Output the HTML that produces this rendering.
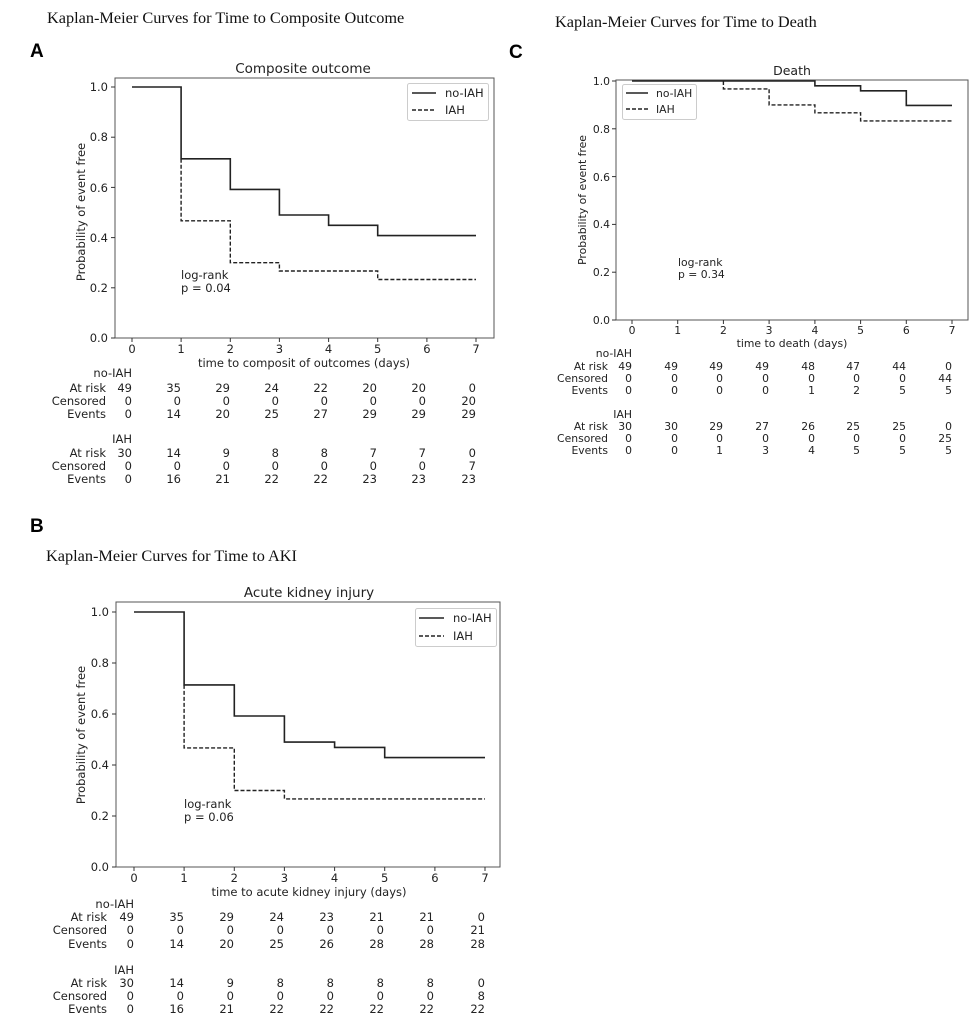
<!DOCTYPE html>
<html><head><meta charset="utf-8"><style>
body{margin:0;background:#fff}
svg{display:block}
.s{font-family:"Liberation Serif",serif;font-size:16.3px;fill:#111}
.L{font-family:"Liberation Sans",sans-serif;font-weight:bold;font-size:19px;fill:#000}
.d{font-family:"DejaVu Sans",sans-serif;fill:#222}
</style></head><body>
<svg width="977" height="1024" viewBox="0 0 977 1024" xmlns="http://www.w3.org/2000/svg">
<rect width="977" height="1024" fill="#fff"/>
<text class="s" x="47" y="23">Kaplan-Meier Curves for Time to Composite Outcome</text>
<text class="s" x="555" y="27">Kaplan-Meier Curves for Time to Death</text>
<text class="s" x="46" y="561">Kaplan-Meier Curves for Time to AKI</text>
<text class="L" x="30" y="57">A</text>
<text class="L" x="509" y="58">C</text>
<text class="L" x="30" y="532">B</text>

<!-- Panel A -->
<g class="d" font-size="11.5">
<text x="303" y="73" text-anchor="middle" font-size="13.5">Composite outcome</text>
<rect x="115" y="78" width="379" height="260" fill="none" stroke="#555" stroke-width="1"/>
<g stroke="#333"><line x1="111" y1="338" x2="115" y2="338"/><line x1="111" y1="287.8" x2="115" y2="287.8"/><line x1="111" y1="237.6" x2="115" y2="237.6"/><line x1="111" y1="187.4" x2="115" y2="187.4"/><line x1="111" y1="137.2" x2="115" y2="137.2"/><line x1="111" y1="87" x2="115" y2="87"/>
<line x1="132" y1="338" x2="132" y2="342"/><line x1="181.1" y1="338" x2="181.1" y2="342"/><line x1="230.3" y1="338" x2="230.3" y2="342"/><line x1="279.4" y1="338" x2="279.4" y2="342"/><line x1="328.6" y1="338" x2="328.6" y2="342"/><line x1="377.7" y1="338" x2="377.7" y2="342"/><line x1="426.9" y1="338" x2="426.9" y2="342"/><line x1="476" y1="338" x2="476" y2="342"/></g>
<g text-anchor="end"><text x="108" y="342">0.0</text><text x="108" y="292">0.2</text><text x="108" y="242">0.4</text><text x="108" y="192">0.6</text><text x="108" y="141">0.8</text><text x="108" y="91">1.0</text></g>
<g text-anchor="middle"><text x="132" y="353">0</text><text x="181.1" y="353">1</text><text x="230.3" y="353">2</text><text x="279.4" y="353">3</text><text x="328.6" y="353">4</text><text x="377.7" y="353">5</text><text x="426.9" y="353">6</text><text x="476" y="353">7</text></g>
<text x="304" y="367" text-anchor="middle">time to composit of outcomes (days)</text>
<text transform="translate(85,212) rotate(-90)" text-anchor="middle">Probability of event free</text>
<path d="M132,87 H181.1 V158.8 H230.3 V189.4 H279.4 V215 H328.6 V225.3 H377.7 V235.6 H476" fill="none" stroke="#222" stroke-width="1.6"/>
<path d="M181.1,158.8 V220.8 H230.3 V262.7 H279.4 V271 H377.7 V279.5 H476" fill="none" stroke="#222" stroke-width="1.4" stroke-dasharray="4,2"/>
<text x="181" y="279">log-rank</text><text x="181" y="292">p = 0.04</text>
<rect x="407.5" y="83.5" width="81" height="37" fill="#fff" stroke="#ccc" rx="2"/>
<line x1="412" y1="93" x2="436" y2="93" stroke="#222" stroke-width="1.6"/><text x="445" y="97">no-IAH</text>
<line x1="412" y1="110" x2="436" y2="110" stroke="#222" stroke-width="1.4" stroke-dasharray="4,2"/><text x="445" y="114">IAH</text>
<g text-anchor="end">
<text x="132" y="377">no-IAH</text>
<text x="106" y="392">At risk</text><text x="106" y="405">Censored</text><text x="106" y="418">Events</text>
<text x="132" y="443">IAH</text>
<text x="106" y="457">At risk</text><text x="106" y="470">Censored</text><text x="106" y="483">Events</text>
<text y="392"><tspan x="132">49</tspan><tspan x="181">35</tspan><tspan x="230">29</tspan><tspan x="279">24</tspan><tspan x="328">22</tspan><tspan x="377">20</tspan><tspan x="426">20</tspan><tspan x="476">0</tspan></text>
<text y="405"><tspan x="132">0</tspan><tspan x="181">0</tspan><tspan x="230">0</tspan><tspan x="279">0</tspan><tspan x="328">0</tspan><tspan x="377">0</tspan><tspan x="426">0</tspan><tspan x="476">20</tspan></text>
<text y="418"><tspan x="132">0</tspan><tspan x="181">14</tspan><tspan x="230">20</tspan><tspan x="279">25</tspan><tspan x="328">27</tspan><tspan x="377">29</tspan><tspan x="426">29</tspan><tspan x="476">29</tspan></text>
<text y="457"><tspan x="132">30</tspan><tspan x="181">14</tspan><tspan x="230">9</tspan><tspan x="279">8</tspan><tspan x="328">8</tspan><tspan x="377">7</tspan><tspan x="426">7</tspan><tspan x="476">0</tspan></text>
<text y="470"><tspan x="132">0</tspan><tspan x="181">0</tspan><tspan x="230">0</tspan><tspan x="279">0</tspan><tspan x="328">0</tspan><tspan x="377">0</tspan><tspan x="426">0</tspan><tspan x="476">7</tspan></text>
<text y="483"><tspan x="132">0</tspan><tspan x="181">16</tspan><tspan x="230">21</tspan><tspan x="279">22</tspan><tspan x="328">22</tspan><tspan x="377">23</tspan><tspan x="426">23</tspan><tspan x="476">23</tspan></text>
</g>
</g>

<!-- Panel B -->
<g class="d" font-size="11.5">
<text x="309" y="597" text-anchor="middle" font-size="13.5">Acute kidney injury</text>
<rect x="116" y="602" width="384" height="265" fill="none" stroke="#555" stroke-width="1"/>
<g stroke="#333"><line x1="112" y1="867" x2="116" y2="867"/><line x1="112" y1="816" x2="116" y2="816"/><line x1="112" y1="765" x2="116" y2="765"/><line x1="112" y1="714" x2="116" y2="714"/><line x1="112" y1="663" x2="116" y2="663"/><line x1="112" y1="612" x2="116" y2="612"/>
<line x1="134" y1="867" x2="134" y2="871"/><line x1="184.1" y1="867" x2="184.1" y2="871"/><line x1="234.3" y1="867" x2="234.3" y2="871"/><line x1="284.4" y1="867" x2="284.4" y2="871"/><line x1="334.6" y1="867" x2="334.6" y2="871"/><line x1="384.7" y1="867" x2="384.7" y2="871"/><line x1="434.9" y1="867" x2="434.9" y2="871"/><line x1="485" y1="867" x2="485" y2="871"/></g>
<g text-anchor="end"><text x="109" y="871">0.0</text><text x="109" y="820">0.2</text><text x="109" y="769">0.4</text><text x="109" y="718">0.6</text><text x="109" y="667">0.8</text><text x="109" y="616">1.0</text></g>
<g text-anchor="middle"><text x="134" y="882">0</text><text x="184.1" y="882">1</text><text x="234.3" y="882">2</text><text x="284.4" y="882">3</text><text x="334.6" y="882">4</text><text x="384.7" y="882">5</text><text x="434.9" y="882">6</text><text x="485" y="882">7</text></g>
<text x="309" y="896" text-anchor="middle">time to acute kidney injury (days)</text>
<text transform="translate(85,735) rotate(-90)" text-anchor="middle">Probability of event free</text>
<path d="M134,612 H184.1 V684.9 H234.3 V716 H284.4 V742.1 H334.6 V747.4 H384.7 V757.6 H485" fill="none" stroke="#222" stroke-width="1.6"/>
<path d="M184.1,684.9 V747.9 H234.3 V790.5 H284.4 V798.9 H485" fill="none" stroke="#222" stroke-width="1.4" stroke-dasharray="4,2"/>
<text x="184" y="808">log-rank</text><text x="184" y="821">p = 0.06</text>
<rect x="415.5" y="608.5" width="81" height="38" fill="#fff" stroke="#ccc" rx="2"/>
<line x1="419" y1="618" x2="444" y2="618" stroke="#222" stroke-width="1.6"/><text x="453" y="622">no-IAH</text>
<line x1="419" y1="636" x2="444" y2="636" stroke="#222" stroke-width="1.4" stroke-dasharray="4,2"/><text x="453" y="640">IAH</text>
<g text-anchor="end">
<text x="134" y="908">no-IAH</text>
<text x="107" y="921">At risk</text><text x="107" y="934">Censored</text><text x="107" y="948">Events</text>
<text x="134" y="974">IAH</text>
<text x="107" y="987">At risk</text><text x="107" y="1000">Censored</text><text x="107" y="1013">Events</text>
<text y="921"><tspan x="134">49</tspan><tspan x="184">35</tspan><tspan x="234">29</tspan><tspan x="284">24</tspan><tspan x="334">23</tspan><tspan x="384">21</tspan><tspan x="434">21</tspan><tspan x="485">0</tspan></text>
<text y="934"><tspan x="134">0</tspan><tspan x="184">0</tspan><tspan x="234">0</tspan><tspan x="284">0</tspan><tspan x="334">0</tspan><tspan x="384">0</tspan><tspan x="434">0</tspan><tspan x="485">21</tspan></text>
<text y="948"><tspan x="134">0</tspan><tspan x="184">14</tspan><tspan x="234">20</tspan><tspan x="284">25</tspan><tspan x="334">26</tspan><tspan x="384">28</tspan><tspan x="434">28</tspan><tspan x="485">28</tspan></text>
<text y="987"><tspan x="134">30</tspan><tspan x="184">14</tspan><tspan x="234">9</tspan><tspan x="284">8</tspan><tspan x="334">8</tspan><tspan x="384">8</tspan><tspan x="434">8</tspan><tspan x="485">0</tspan></text>
<text y="1000"><tspan x="134">0</tspan><tspan x="184">0</tspan><tspan x="234">0</tspan><tspan x="284">0</tspan><tspan x="334">0</tspan><tspan x="384">0</tspan><tspan x="434">0</tspan><tspan x="485">8</tspan></text>
<text y="1013"><tspan x="134">0</tspan><tspan x="184">16</tspan><tspan x="234">21</tspan><tspan x="284">22</tspan><tspan x="334">22</tspan><tspan x="384">22</tspan><tspan x="434">22</tspan><tspan x="485">22</tspan></text>
</g>
</g>

<!-- Panel C -->
<g class="d" font-size="10.8">
<text x="792" y="75" text-anchor="middle" font-size="12.5">Death</text>
<rect x="616" y="80" width="352" height="240" fill="none" stroke="#555" stroke-width="1"/>
<g stroke="#333"><line x1="612" y1="320" x2="616" y2="320"/><line x1="612" y1="272.2" x2="616" y2="272.2"/><line x1="612" y1="224.4" x2="616" y2="224.4"/><line x1="612" y1="176.6" x2="616" y2="176.6"/><line x1="612" y1="128.8" x2="616" y2="128.8"/><line x1="612" y1="81" x2="616" y2="81"/>
<line x1="632" y1="320" x2="632" y2="324"/><line x1="677.7" y1="320" x2="677.7" y2="324"/><line x1="723.4" y1="320" x2="723.4" y2="324"/><line x1="769.1" y1="320" x2="769.1" y2="324"/><line x1="814.9" y1="320" x2="814.9" y2="324"/><line x1="860.6" y1="320" x2="860.6" y2="324"/><line x1="906.3" y1="320" x2="906.3" y2="324"/><line x1="952" y1="320" x2="952" y2="324"/></g>
<g text-anchor="end"><text x="610" y="324">0.0</text><text x="610" y="276">0.2</text><text x="610" y="228">0.4</text><text x="610" y="181">0.6</text><text x="610" y="133">0.8</text><text x="610" y="85">1.0</text></g>
<g text-anchor="middle"><text x="632" y="334">0</text><text x="677.7" y="334">1</text><text x="723.4" y="334">2</text><text x="769.1" y="334">3</text><text x="814.9" y="334">4</text><text x="860.6" y="334">5</text><text x="906.3" y="334">6</text><text x="952" y="334">7</text></g>
<text x="792" y="347" text-anchor="middle">time to death (days)</text>
<text transform="translate(586,200) rotate(-90)" text-anchor="middle">Probability of event free</text>
<path d="M632,81 H814.9 V85.8 H860.6 V90.8 H906.3 V105.4 H952" fill="none" stroke="#222" stroke-width="1.6"/>
<path d="M723.4,81 V88.9 H769.1 V104.9 H814.9 V112.8 H860.6 V120.9 H952" fill="none" stroke="#222" stroke-width="1.4" stroke-dasharray="4,2"/>
<text x="678" y="266">log-rank</text><text x="678" y="278">p = 0.34</text>
<rect x="622.5" y="84.5" width="74" height="35" fill="#fff" stroke="#ccc" rx="2"/>
<line x1="626" y1="93" x2="648" y2="93" stroke="#222" stroke-width="1.6"/><text x="656" y="97">no-IAH</text>
<line x1="626" y1="109" x2="648" y2="109" stroke="#222" stroke-width="1.4" stroke-dasharray="4,2"/><text x="656" y="113">IAH</text>
<g text-anchor="end">
<text x="632" y="357">no-IAH</text>
<text x="608" y="370">At risk</text><text x="608" y="382">Censored</text><text x="608" y="394">Events</text>
<text x="632" y="418">IAH</text>
<text x="608" y="430">At risk</text><text x="608" y="442">Censored</text><text x="608" y="454">Events</text>
<text y="370"><tspan x="632">49</tspan><tspan x="678">49</tspan><tspan x="723">49</tspan><tspan x="769">49</tspan><tspan x="815">48</tspan><tspan x="860">47</tspan><tspan x="906">44</tspan><tspan x="952">0</tspan></text>
<text y="382"><tspan x="632">0</tspan><tspan x="678">0</tspan><tspan x="723">0</tspan><tspan x="769">0</tspan><tspan x="815">0</tspan><tspan x="860">0</tspan><tspan x="906">0</tspan><tspan x="952">44</tspan></text>
<text y="394"><tspan x="632">0</tspan><tspan x="678">0</tspan><tspan x="723">0</tspan><tspan x="769">0</tspan><tspan x="815">1</tspan><tspan x="860">2</tspan><tspan x="906">5</tspan><tspan x="952">5</tspan></text>
<text y="430"><tspan x="632">30</tspan><tspan x="678">30</tspan><tspan x="723">29</tspan><tspan x="769">27</tspan><tspan x="815">26</tspan><tspan x="860">25</tspan><tspan x="906">25</tspan><tspan x="952">0</tspan></text>
<text y="442"><tspan x="632">0</tspan><tspan x="678">0</tspan><tspan x="723">0</tspan><tspan x="769">0</tspan><tspan x="815">0</tspan><tspan x="860">0</tspan><tspan x="906">0</tspan><tspan x="952">25</tspan></text>
<text y="454"><tspan x="632">0</tspan><tspan x="678">0</tspan><tspan x="723">1</tspan><tspan x="769">3</tspan><tspan x="815">4</tspan><tspan x="860">5</tspan><tspan x="906">5</tspan><tspan x="952">5</tspan></text>
</g>
</g>
</svg>
</body></html>
